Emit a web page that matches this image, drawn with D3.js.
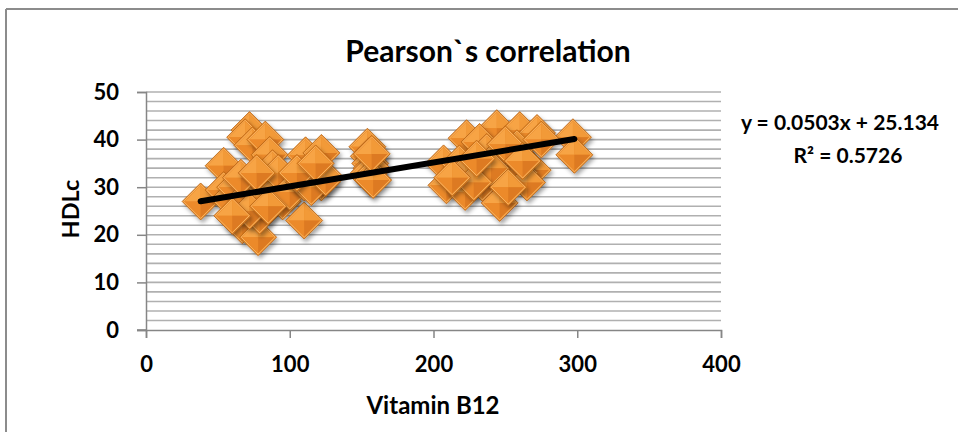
<!DOCTYPE html>
<html>
<head>
<meta charset="utf-8">
<script src="https://cdn.jsdelivr.net/npm/d3@7"></script>
<style>
  body { margin: 0; background: #fff; }
  text { font-family: "Lato", "Open Sans", sans-serif; font-weight: bold; fill: #000; }
</style>
</head>
<body>
<div id="chart"></div>
<script>
// Data
var vitaminB12 = [38, 72, 69, 74, 83, 86, 54, 88, 65, 54, 67, 78, 79, 58, 62, 70, 75, 80, 84, 90,
  95, 92, 100, 72, 85, 66, 60, 77, 110, 111, 122, 122, 110, 115, 125, 105, 118,
  154, 155, 156, 157, 155, 156, 158, 157,
  223, 244, 260, 272, 232, 237, 207, 218, 222, 209, 222, 234, 246, 269, 260, 255, 246, 297, 298, 258,
  240, 228, 265, 250, 230, 213, 275, 252, 262];
var hdlc = [27, 42, 40.5, 38.8, 40, 36.8, 34.5, 34, 26, 29.4, 22, 19.5, 24, 27.5, 30, 28, 30, 31, 28, 29,
  27, 33, 29, 25, 26, 32, 24, 33, 23, 36.7, 37.2, 31, 31, 30, 32, 33, 35,
  38.5, 36.5, 35, 34, 33, 32, 31.5, 37,
  40.3, 42.4, 42, 41.4, 39.5, 37.4, 35, 35, 33, 30.4, 29, 30.9, 26.7, 33.6, 33, 35, 36.8, 40.5, 36.8, 38.2,
  34, 31, 31, 39, 36, 32, 40, 30, 35.5];
var xTicks = [0, 100, 200, 300, 400];
var yTicks = [0, 10, 20, 30, 40, 50];
var trendSlope = 0.0503;
var trendIntercept = 25.134;
var equationLabel = "y = 0.0503x + 25.134";
var r2Label = "R² = 0.5726";

var points = vitaminB12.map(function(v, i) { return { x: v, y: hdlc[i] }; });

var svgWidth = 958;
var svgHeight = 432;
var margin = { top: 92, right: 237, bottom: 102, left: 146 };
var width = svgWidth - margin.left - margin.right;
var height = svgHeight - margin.top - margin.bottom;

var svg = d3.select("#chart")
  .append("svg")
  .attr("width", svgWidth)
  .attr("height", svgHeight);

// outer chart frame (only top and left edges show)
svg.append("line").attr("x1", 6).attr("y1", 9).attr("x2", svgWidth).attr("y2", 9)
  .attr("stroke", "#8c8c8c").attr("stroke-width", 2);
svg.append("line").attr("x1", 6).attr("y1", 9).attr("x2", 6).attr("y2", svgHeight)
  .attr("stroke", "#8c8c8c").attr("stroke-width", 2);

var defs = svg.append("defs");
var shadow = defs.append("filter").attr("id", "shadow")
  .attr("x", "-50%").attr("y", "-50%").attr("width", "200%").attr("height", "200%");
shadow.append("feDropShadow")
  .attr("dx", 2).attr("dy", 3).attr("stdDeviation", 2)
  .attr("flood-color", "#000").attr("flood-opacity", 0.35);

var chartGroup = svg.append("g")
  .attr("transform", `translate(${margin.left}, ${margin.top})`);

var xScale = d3.scaleLinear().domain([0, 400]).range([0, width]);
var yScale = d3.scaleLinear().domain([0, 50]).range([height, 0]);

// gridlines every 2 units
chartGroup.append("g")
  .selectAll("line")
  .data(d3.range(2, 51, 2))
  .enter()
  .append("line")
  .attr("x1", 0)
  .attr("x2", width)
  .attr("y1", d => yScale(d))
  .attr("y2", d => yScale(d))
  .attr("stroke", "#b0b0b0")
  .attr("stroke-width", 1.6);

// axes
var bottomAxis = d3.axisBottom(xScale).tickValues(xTicks).tickSize(8).tickPadding(18);
var leftAxis = d3.axisLeft(yScale).tickValues(yTicks).tickSize(9).tickPadding(18);

var xAxisG = chartGroup.append("g")
  .attr("transform", `translate(0, ${height})`)
  .call(bottomAxis);
var yAxisG = chartGroup.append("g")
  .call(leftAxis);

[xAxisG, yAxisG].forEach(function(g) {
  g.select(".domain").attr("stroke", "#868686").attr("stroke-width", 1.5);
  g.selectAll(".tick line").attr("stroke", "#868686").attr("stroke-width", 1.5);
  g.selectAll(".tick text")
    .style("font-family", "Lato, 'Open Sans', sans-serif")
    .style("font-weight", "bold")
    .style("font-size", "22px")
    .attr("fill", "#000");
});
// x axis line also reaches left under the y tick
chartGroup.append("line")
  .attr("x1", -9).attr("x2", 0)
  .attr("y1", height).attr("y2", height)
  .attr("stroke", "#868686").attr("stroke-width", 1.5);

// diamond markers with pyramid faces
var r = 18.5;
var faces = [
  { path: `M0,0 L${-r},0 L0,${-r} Z`, color: "#f7a445" },
  { path: `M0,0 L0,${-r} L${r},0 Z`, color: "#f29a38" },
  { path: `M0,0 L${-r},0 L0,${r} Z`, color: "#ec8a2a" },
  { path: `M0,0 L${r},0 L0,${r} Z`, color: "#dd7a20" }
];

var markers = chartGroup.append("g")
  .selectAll("g.marker")
  .data(points)
  .enter()
  .append("g")
  .attr("class", "marker")
  .attr("transform", d => `translate(${xScale(d.x)}, ${yScale(d.y)})`)
  .attr("filter", "url(#shadow)");

markers.append("path")
  .attr("d", `M0,${-r} L${r},0 L0,${r} L${-r},0 Z`)
  .attr("fill", "#e98a2c")
  .attr("stroke", "#b86414")
  .attr("stroke-width", 0.8);

faces.forEach(function(f) {
  markers.append("path")
    .attr("d", f.path)
    .attr("transform", "scale(0.86)")
    .attr("fill", f.color);
});

// bevel rim highlight
markers.append("path")
  .attr("d", `M0,${-r + 1.5} L${r - 1.5},0 L0,${r - 1.5} L${-r + 1.5},0 Z`)
  .attr("fill", "none")
  .attr("stroke", "#f9b460")
  .attr("stroke-width", 1);

// linear trendline
var xExtent = d3.extent(vitaminB12);
chartGroup.append("line")
  .attr("x1", xScale(xExtent[0]))
  .attr("y1", yScale(trendSlope * xExtent[0] + trendIntercept))
  .attr("x2", xScale(xExtent[1]))
  .attr("y2", yScale(trendSlope * xExtent[1] + trendIntercept))
  .attr("stroke", "#000")
  .attr("stroke-width", 6)
  .attr("stroke-linecap", "round");

// titles
svg.append("text")
  .attr("x", 488)
  .attr("y", 62)
  .attr("text-anchor", "middle")
  .style("font-size", "30px")
  .text("Pearson`s correlation");

svg.append("text")
  .attr("x", 433)
  .attr("y", 414)
  .attr("text-anchor", "middle")
  .style("font-size", "24px")
  .text("Vitamin B12");

svg.append("text")
  .attr("transform", "translate(79, 209) rotate(-90)")
  .attr("text-anchor", "middle")
  .style("font-size", "23.5px")
  .text("HDLc");

// trendline equation
svg.append("text")
  .attr("x", 840)
  .attr("y", 130)
  .attr("text-anchor", "middle")
  .style("font-size", "21px")
  .text(equationLabel);
svg.append("text")
  .attr("x", 848)
  .attr("y", 163)
  .attr("text-anchor", "middle")
  .style("font-size", "21px")
  .text(r2Label);
</script>
</body>
</html>
